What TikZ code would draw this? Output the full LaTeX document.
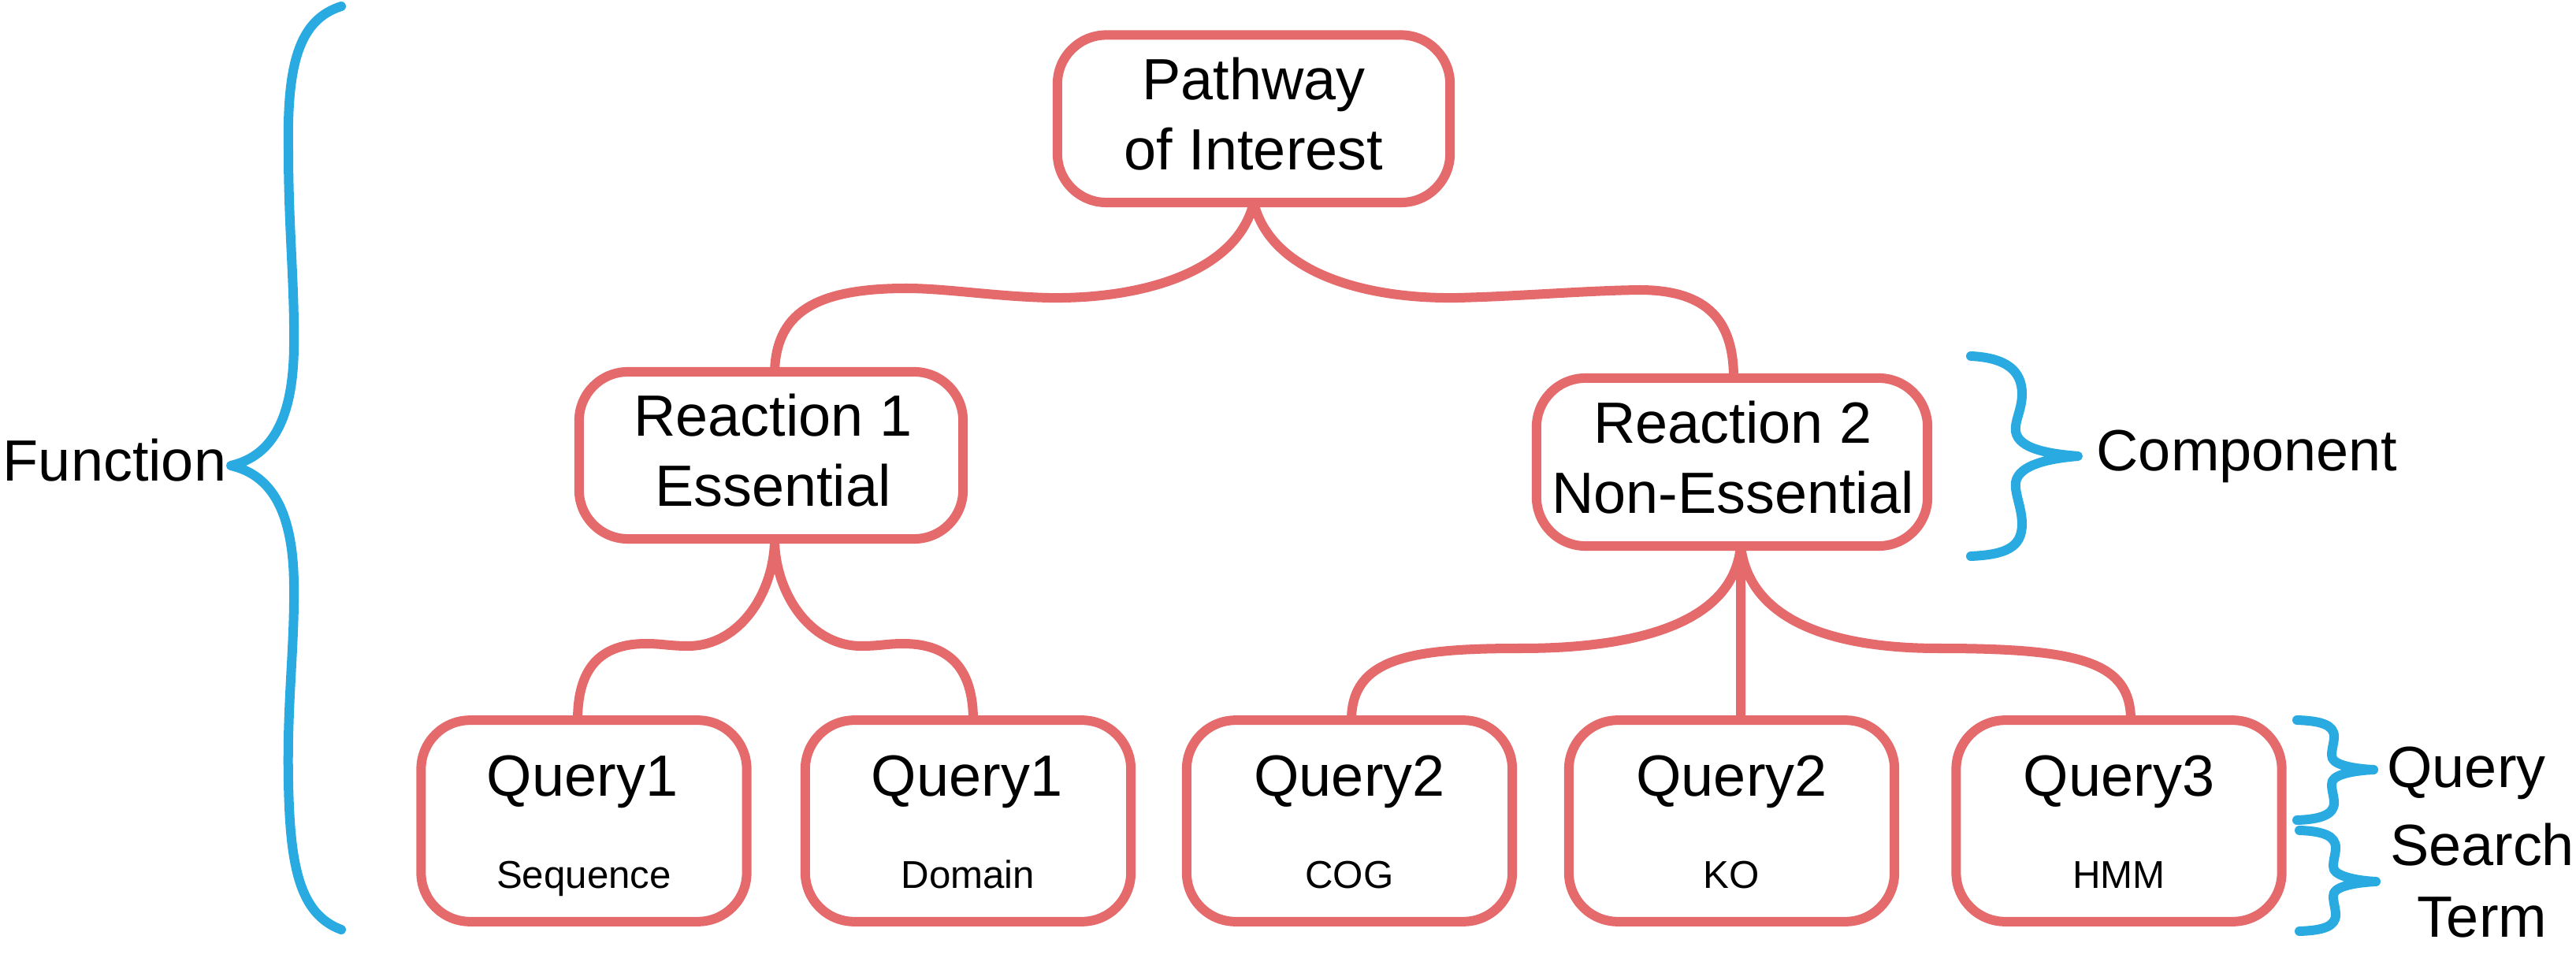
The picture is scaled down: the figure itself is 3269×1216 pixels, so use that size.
\documentclass[tikz,border=0pt]{standalone}
\usepackage{fontspec}
\setmainfont{Liberation Sans}
\definecolor{pred}{HTML}{E46A6C}
\definecolor{pblue}{HTML}{29AAE1}
\begin{document}
\begin{tikzpicture}[x=0.01cm,y=-0.01cm,
  box/.style={draw=pred, line width=0.12cm, rounded corners=0.62cm, fill=white, inner sep=0pt, outer sep=0pt},
  qbox/.style={box, minimum width=4.13cm, minimum height=2.555cm},
  conn/.style={draw=pred, line width=0.12cm},
  brace/.style={draw=pblue, line width=0.12cm, line cap=round, line join=round},
  big/.style={font=\fontsize{21}{25}\selectfont, inner sep=0pt, anchor=base},
  small/.style={font=\fontsize{14}{17}\selectfont, inner sep=0pt, anchor=base}]
\useasboundingbox (0,0) rectangle (3269,1216);

% boxes
\node[box, minimum width=4.98cm, minimum height=2.125cm] (pw) at (1591,150.75) {};
\node[box, minimum width=4.87cm, minimum height=2.12cm] (r1) at (978.5,578) {};
\node[box, minimum width=4.96cm, minimum height=2.13cm] (r2) at (2198,586.5) {};
\node[qbox] (q1s) at (741,1042) {};
\node[qbox] (q1d) at (1228.5,1042) {};
\node[qbox] (q2c) at (1712.5,1042) {};
\node[qbox] (q2k) at (2197.5,1042) {};
\node[qbox] (q3h) at (2689,1042) {};

% texts
\node[big] (tpw1) at (1591,127) {Pathway};
\node[big] (tpw2) at (1591,216) {of Interest};
\node[big] (tr11) at (981,554) {Reaction 1};
\node[big] (tr12) at (981,643) {Essential};
\node[big] (tr21) at (2199,563) {Reaction 2};
\node[big] (tr22) at (2199,652) {Non-Essential};
\node[big] (tq1s) at (739,1010) {Query1};
\node[small] (sq1s) at (741,1127) {Sequence};
\node[big] (tq1d) at (1227,1010) {Query1};
\node[small] (sq1d) at (1228.5,1127) {Domain};
\node[big] (tq2c) at (1712.5,1010) {Query2};
\node[small] (sq2c) at (1712.5,1127) {COG};
\node[big] (tq2k) at (2197.5,1010) {Query2};
\node[small] (sq2k) at (2197.5,1127) {KO};
\node[big] (tq3h) at (2689,1010) {Query3};
\node[small] (sq3h) at (2689,1127) {HMM};

% connectors
\draw[conn] (pw.south) .. controls (1570,345) and (1450,380) .. (1330,378)
  .. controls (1260,376) and (1200,366) .. (1150,366)
  .. controls (1030,366) and (985,400) .. ([xshift=0.045cm]r1.north);
\draw[conn] (pw.south) .. controls (1612,345) and (1730,380) .. (1850,378)
  .. controls (1930,376) and (2010,369) .. (2080,368)
  .. controls (2170,368) and (2200,410) .. ([xshift=0.02cm]r2.north);

\draw[conn] ([xshift=0.045cm]r1.south) .. controls (983,750) and (940,820) .. (873,820)
  .. controls (850,820) and (840,817) .. (820,817)
  .. controls (760,817) and (733,850) .. ([xshift=-0.08cm]q1s.north);
\draw[conn] ([xshift=0.045cm]r1.south) .. controls (983,750) and (1026,820) .. (1093,820)
  .. controls (1116,820) and (1126,817) .. (1146,817)
  .. controls (1206,817) and (1235,850) .. ([xshift=0.065cm]q1d.north);

\draw[conn] ([xshift=0.11cm]r2.south) .. controls (2200,790) and (2080,823) .. (1930,823)
  .. controls (1790,823) and (1715,835) .. ([xshift=0.025cm]q2c.north);
\draw[conn] ([xshift=0.11cm]r2.south) -- ([xshift=0.115cm]q2k.north);
\draw[conn] ([xshift=0.11cm]r2.south) .. controls (2220,790) and (2330,823) .. (2460,823)
  .. controls (2640,823) and (2704,840) .. ([xshift=0.15cm]q3h.north);

% braces
\draw[brace] (433,8) .. controls (380,25) and (364,80) .. (366,190)
  .. controls (366,290) and (374,360) .. (373,440)
  .. controls (372,540) and (340,580) .. (293,591)
  .. controls (340,602) and (372,642) .. (373,742)
  .. controls (374,822) and (364,892) .. (366,992)
  .. controls (368,1100) and (380,1160) .. (433,1180);
\node[big] (tfun) at (145.5,611) {Function};

\draw[brace] (2501,452) .. controls (2545,454) and (2566,470) .. (2566,500)
  .. controls (2566,520) and (2556,535) .. (2558,548)
  .. controls (2562,570) and (2600,576) .. (2637,579)
  .. controls (2600,582) and (2562,590) .. (2558,612)
  .. controls (2556,625) and (2566,645) .. (2566,665)
  .. controls (2566,695) and (2545,704) .. (2501,706);
\node[big] (tcomp) at (2851.5,598) {Component};

\draw[brace] (2915,914) .. controls (2945,915) and (2962,920) .. (2962,935)
  .. controls (2962,945) and (2957,955) .. (2960,963)
  .. controls (2965,972) and (2990,976) .. (3012,977)
  .. controls (2990,978) and (2965,982) .. (2960,991)
  .. controls (2957,999) and (2962,1009) .. (2962,1019)
  .. controls (2962,1034) and (2945,1040) .. (2915,1041);
\node[big] (tquery) at (3130,999) {Query};

\draw[brace] (2918,1054) .. controls (2948,1055) and (2964,1061) .. (2964,1076)
  .. controls (2964,1086) and (2959,1096) .. (2962,1104)
  .. controls (2967,1113) and (2993,1118) .. (3015,1119)
  .. controls (2993,1120) and (2967,1124) .. (2962,1133)
  .. controls (2959,1141) and (2964,1151) .. (2964,1161)
  .. controls (2964,1176) and (2948,1181) .. (2918,1182);
\node[big] (tsearch) at (3150,1098) {Search};
\node[big] (tterm) at (3150,1189) {Term};
\end{tikzpicture}
\end{document}
